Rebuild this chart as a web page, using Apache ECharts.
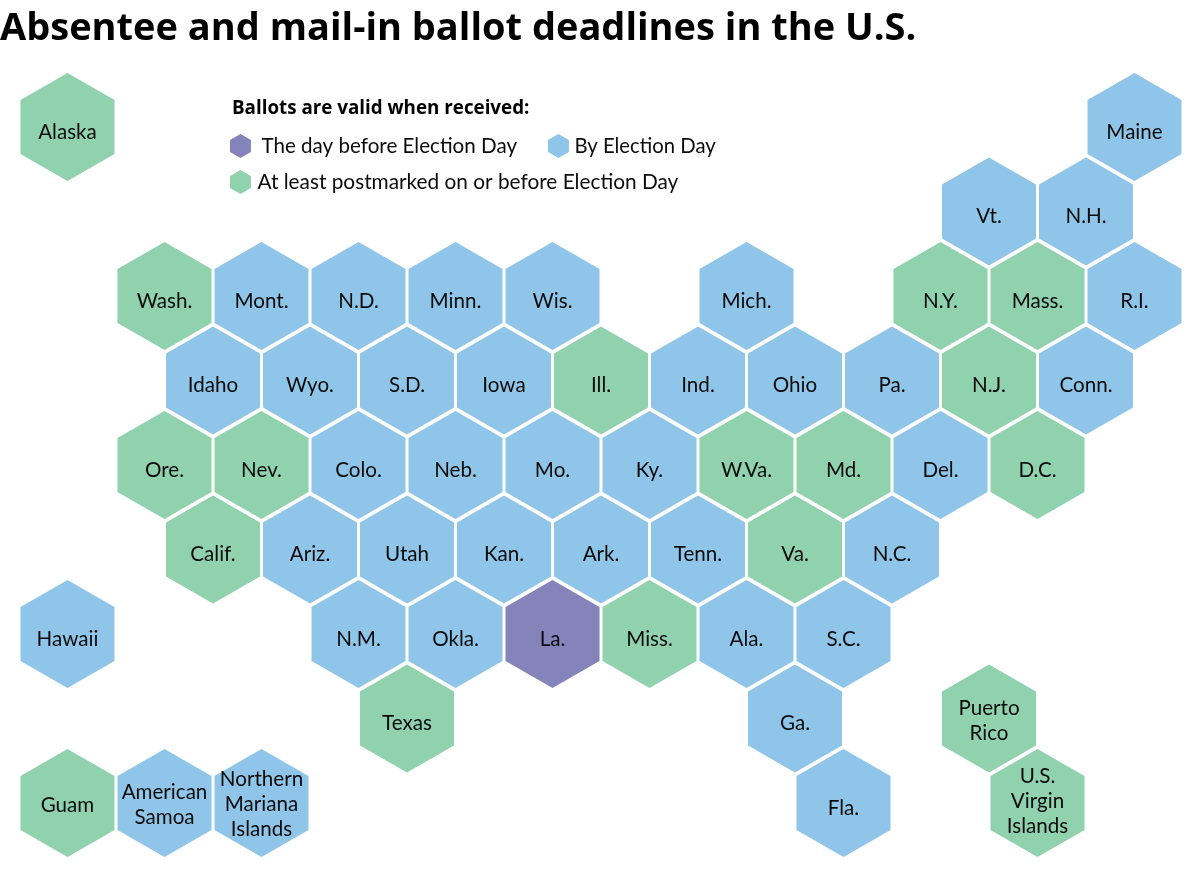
<!DOCTYPE html>
<html><head><meta charset="utf-8">
<style>html,body{margin:0;padding:0;background:#fff}#c{width:1200px;height:871px}</style>
<script src="https://cdn.jsdelivr.net/npm/echarts@6/dist/echarts.min.js"></script></head>
<body><div id="c"></div>
<script>
// [half-column, row, label]
const dayBefore = [[10,6,'La.']];
const byElectionDay = [
 [22,0,'Maine'],[19,1,'Vt.'],[21,1,'N.H.'],
 [4,2,'Mont.'],[6,2,'N.D.'],[8,2,'Minn.'],[10,2,'Wis.'],[14,2,'Mich.'],[22,2,'R.I.'],
 [3,3,'Idaho'],[5,3,'Wyo.'],[7,3,'S.D.'],[9,3,'Iowa'],[13,3,'Ind.'],[15,3,'Ohio'],[17,3,'Pa.'],[21,3,'Conn.'],
 [6,4,'Colo.'],[8,4,'Neb.'],[10,4,'Mo.'],[12,4,'Ky.'],[18,4,'Del.'],
 [5,5,'Ariz.'],[7,5,'Utah'],[9,5,'Kan.'],[11,5,'Ark.'],[13,5,'Tenn.'],[17,5,'N.C.'],
 [0,6,'Hawaii'],[6,6,'N.M.'],[8,6,'Okla.'],[14,6,'Ala.'],[16,6,'S.C.'],
 [15,7,'Ga.'],
 [2,8,'American\nSamoa'],[4,8,'Northern\nMariana\nIslands'],[16,8,'Fla.']
];
const postmarked = [
 [0,0,'Alaska'],
 [2,2,'Wash.'],[18,2,'N.Y.'],[20,2,'Mass.'],
 [11,3,'Ill.'],[19,3,'N.J.'],
 [2,4,'Ore.'],[4,4,'Nev.'],[14,4,'W.Va.'],[16,4,'Md.'],[20,4,'D.C.'],
 [3,5,'Calif.'],[15,5,'Va.'],
 [12,6,'Miss.'],
 [7,7,'Texas'],[19,7,'Puerto\nRico'],
 [0,8,'Guam'],[20,8,'U.S.\nVirgin\nIslands']
];
const titleText = 'Absentee and mail-in ballot deadlines in the U.S.';
const legendTitle = 'Ballots are valid when received:';
const names = ['The day before Election Day','By Election Day','At least postmarked on or before Election Day'];

const FONT = 'Lato';
const hex = 'path://M47 0L94 27L94 81L47 108L0 81L0 27Z';
const lineShift = {1:5, 2:2, 3:1};
const labelShift = {'Guam':2, 'U.S.\nVirgin\nIslands':-2};
const mk = (name, data, color) => ({
  type:'scatter', name, clip:false, symbol:hex, symbolSize:[94,108],
  data:data.map(d=>({value:d, label:{offset:[0, labelShift[d[2]] ?? lineShift[d[2].split('\n').length]]}})),
  itemStyle:{color, opacity:1}, silent:true,
  encode:{x:0,y:1},
  label:{show:true, position:'inside', formatter:p=>p.value[2], color:'#0b0b0b',
    fontFamily:FONT, fontSize:20.6, lineHeight:25}
});
const leg = (name,left,top,pad,size) => ({
  data:[name], left, top, orient:'horizontal', padding:0, itemWidth:22, itemHeight:24,
  icon:hex, selectedMode:false,
  textStyle:{fontFamily:FONT, fontSize:size, color:'#0b0b0b', padding:[0,0,0,pad]}
});
const chart = echarts.init(document.getElementById('c'), null, {renderer:'canvas'});
chart.setOption({
  backgroundColor:'#fff', animation:false,
  title:[
    {text:titleText, left:0, top:10, padding:0, textStyle:{fontFamily:'Open Sans', fontWeight:'bold', fontSize:38, color:'#000'}},
    {text:legendTitle, left:232, top:99, padding:0, textStyle:{fontFamily:'Open Sans', fontWeight:'bold', fontSize:18.8, color:'#000'}}
  ],
  legend:[leg(names[0],230,134,5,20.6), leg(names[1],548,134,0,20.3), leg(names[2],230,170,1,20.8)],
  grid:{left:19,right:17,top:127,bottom:68},
  xAxis:{type:'value',min:-1,max:23,show:false},
  yAxis:{type:'value',min:0,max:8,inverse:true,show:false},
  series:[mk(names[0],dayBefore,'#8484BB'),mk(names[1],byElectionDay,'#8FC5E8'),mk(names[2],postmarked,'#90D1AE')]
});
</script></body></html>
